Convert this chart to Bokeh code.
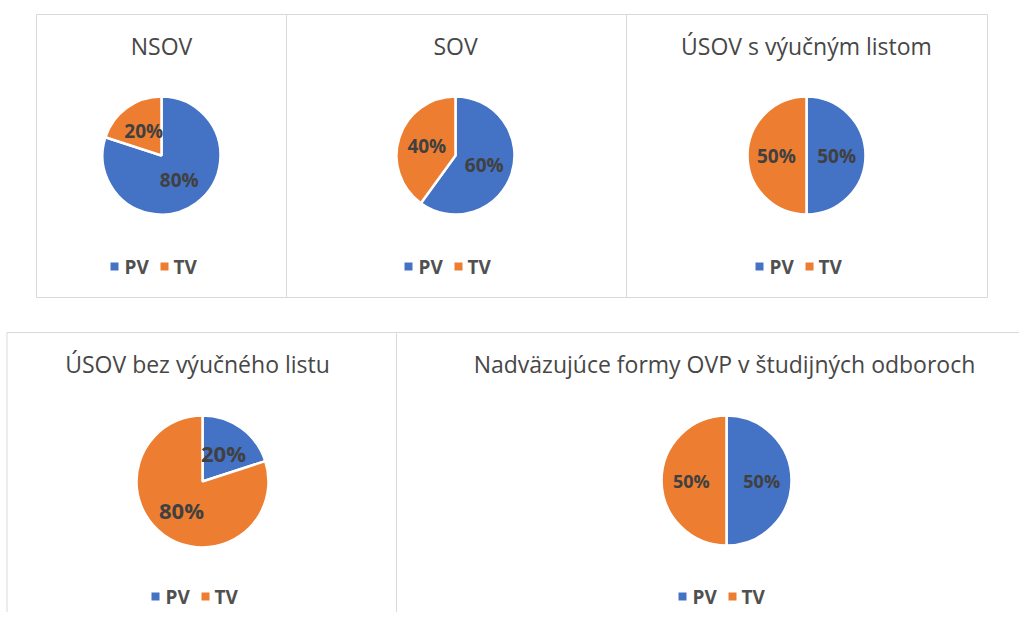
import math
from bokeh.plotting import figure
from bokeh.models import Range1d, ColumnDataSource
from bokeh.core.properties import value
from bokeh.embed import file_html
from bokeh.resources import INLINE

# ---------------- data ----------------
charts = ["NSOV", "SOV", "ÚSOV s výučným listom",
          "ÚSOV bez výučného listu",
          "Nadväzujúce formy OVP v študijných odboroch"]
categories = ["PV", "TV"]
pv_share = [80, 60, 50, 20, 50]
tv_share = [20, 40, 50, 80, 50]

# ---------------- style / layout ----------------
colors = ["#4472C4", "#ED7D31"]
FONT = value("Open Sans")
TITLE_COLOR = "#474747"
LABEL_COLOR = "#404040"
FRAME_COLOR = "#d9d9d9"

W, H = 1019, 612          # figure size (page margin 8px)
IMG_H = 628

def Y(y_img):
    return IMG_H - y_img

# per chart: pie centre, radius, title pos, legend pos, label size, label radius frac
layout = [
    dict(cx=161, cy=155, r=58, tx=161, ty=45, ly=266, ls=19, lf=0.52, lx=161),
    dict(cx=455, cy=155, r=58, tx=455, ty=45, ly=266, ls=19, lf=0.52, lx=455),
    dict(cx=806, cy=155, r=58, tx=806, ty=45, ly=266, ls=19, lf=0.52, lx=806),
    dict(cx=202, cy=481, r=65, tx=197, ty=363, ly=596, ls=22, lf=0.55, lx=202),
    dict(cx=726, cy=480, r=64, tx=724, ty=363, ly=596, ls=18, lf=0.55, lx=729),
]

p = figure(width=W, height=H, x_range=Range1d(0, W), y_range=Range1d(IMG_H - H, IMG_H),
           x_axis_type=None, y_axis_type=None, output_backend="svg",
           toolbar_location=None, min_border=0)
p.outline_line_color = None
p.background_fill_color = "white"
p.border_fill_color = "white"

# ---------------- frames ----------------
frame_xs = [
    [36, 987, 987, 36, 36],      # top row box
    [286, 286], [626, 626],      # top row dividers
    [6.5, 6.5, 1035], [396, 396] # bottom row frame and divider
]
frame_ys = [
    [Y(14), Y(14), Y(297), Y(297), Y(14)],
    [Y(14), Y(297)], [Y(14), Y(297)],
    [Y(628), Y(332), Y(332)], [Y(332), Y(628)],
]
p.multi_line(xs=frame_xs, ys=frame_ys, line_color=FRAME_COLOR, line_width=1)

# ---------------- pies ----------------
for i, name in enumerate(charts):
    L = layout[i]
    vals = [pv_share[i], tv_share[i]]
    total = float(sum(vals))
    starts, ends, lxs, lys, texts = [], [], [], [], []
    cum = 0.0
    for v in vals:
        a0 = math.pi / 2 - 2 * math.pi * cum / total
        cum += v
        a1 = math.pi / 2 - 2 * math.pi * cum / total
        starts.append(a0)
        ends.append(a1)
        mid = (a0 + a1) / 2
        lxs.append(L["cx"] + L["lf"] * L["r"] * math.cos(mid))
        lys.append(Y(L["cy"]) + L["lf"] * L["r"] * math.sin(mid))
        texts.append(f"{v}%")
    src = ColumnDataSource(dict(start=starts, end=ends, color=colors,
                                cat=categories, val=vals))
    p.wedge(x=L["cx"], y=Y(L["cy"]), radius=L["r"] + 1,
            start_angle="start", end_angle="end", direction="clock",
            fill_color="color", line_color="white", line_width=2.5, source=src)
    # data labels
    p.text(x=lxs, y=lys, text=texts, text_font=FONT, text_font_size=f"{L['ls']}px",
           text_font_style="bold", text_color=LABEL_COLOR,
           text_align="center", text_baseline="middle")
    # title
    p.text(x=[L["tx"]], y=[Y(L["ty"])], text=[name], text_font=FONT,
           text_font_size="23px", text_color=TITLE_COLOR,
           text_align="center", text_baseline="middle")
    # legend (squares + labels)
    sq_x = [L["lx"] - 47, L["lx"] + 3]
    tx_x = [L["lx"] - 37, L["lx"] + 12]
    p.rect(x=sq_x, y=[Y(L["ly"])] * 2, width=8, height=8, fill_color=colors,
           line_color=None)
    p.text(x=tx_x, y=[Y(L["ly"])] * 2, text=categories, text_font=FONT,
           text_font_size="19px", text_font_style="bold", text_color="#505050",
           text_align="left", text_baseline="middle")

open("out.html", "w").write(file_html(p, INLINE))
